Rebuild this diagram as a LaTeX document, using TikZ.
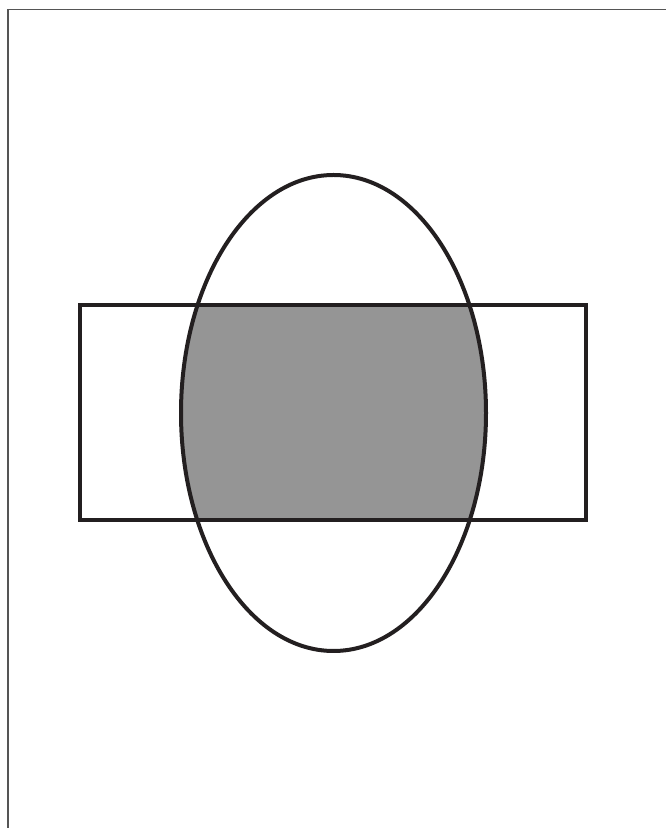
\documentclass[tikz,border=0pt]{standalone}
\usepackage{tikz}
\usetikzlibrary{calc}
\definecolor{ink}{HTML}{231F20}
\definecolor{edgegrey}{HTML}{555555}
\definecolor{overlapgrey}{HTML}{959595}

\begin{document}
\begin{tikzpicture}[x=1pt,y=1pt,outline/.style={draw=ink,line width=4pt}]
  \useasboundingbox (0,0) rectangle (666,828);
  \coordinate (centre) at (333.5,415);
  \coordinate (boxsw) at (80,308);
  \coordinate (boxne) at (586,523);
  % shaded overlap
  \begin{scope}
    \clip (centre) ellipse [x radius=152.5,y radius=238];
    \fill[overlapgrey] (boxsw) rectangle (boxne);
  \end{scope}
  \draw[outline] (boxsw) rectangle (boxne);
  \draw[outline] (centre) ellipse [x radius=152.5,y radius=238];
  % page edge
  \draw[edgegrey,line width=1.6pt] (8,0) -- (8,818.5) -- (666,818.5);
\end{tikzpicture}
\end{document}
